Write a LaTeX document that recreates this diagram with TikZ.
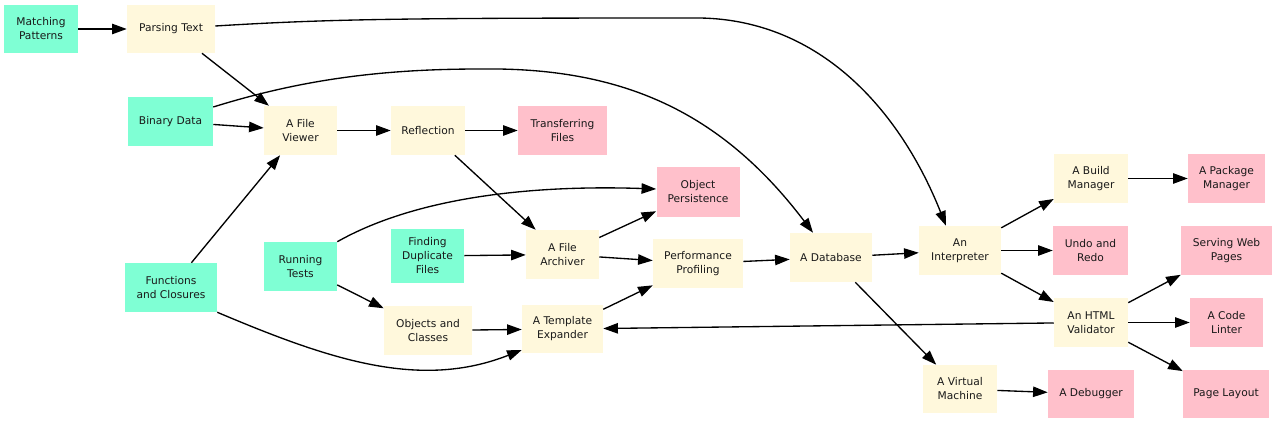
\documentclass[tikz,border=0pt]{standalone}
\usepackage{fontspec}
\setmainfont{DejaVu Sans}
\usetikzlibrary{arrows.meta}
\definecolor{aqua}{HTML}{7FFFD4}
\definecolor{corn}{HTML}{FFF8DC}
\definecolor{pinkc}{HTML}{FFC0CB}
\tikzset{
  gbox/.style={rectangle, draw=none, inner sep=0pt, align=center,
    font=\fontsize{8pt}{10.5pt}\selectfont, text=black!90},
  sz/.style 2 args={minimum width=#1*0.75pt, minimum height=#2*0.75pt},
  src/.style={gbox, fill=aqua},
  mid/.style={gbox, fill=corn},
  snk/.style={gbox, fill=pinkc},
  edge/.style={draw=black, line width=1pt, -{Triangle[length=11pt,width=7.8pt]}}
}
\begin{document}
\begin{tikzpicture}[x=0.75pt,y=-0.75pt]
\useasboundingbox (0,0) rectangle (1276,424);
% nodes
\node[src,sz={74}{48}] (mp) at (41,29) {Matching\\Patterns};
\node[mid,sz={88}{48}] (pt) at (171,29) {Parsing Text};
\node[src,sz={85}{49}] (bd) at (170.5,121.5) {Binary Data};
\node[mid,sz={73}{49}] (fv) at (300.5,130.5) {A File\\Viewer};
\node[mid,sz={74}{49}] (refl) at (428,130.5) {Reflection};
\node[snk,sz={89}{49}] (tf) at (562.5,130.5) {Transferring\\Files};
\node[snk,sz={83}{50}] (op) at (698,192) {Object\\Persistence};
\node[src,sz={73}{54}] (fdf) at (427.5,256) {Finding\\Duplicate\\Files};
\node[mid,sz={73}{49}] (fa) at (562.5,254.5) {A File\\Archiver};
\node[mid,sz={90}{49}] (pp) at (698,263.5) {Performance\\Profiling};
\node[mid,sz={88}{49}] (oc) at (428,330.5) {Objects and\\Classes};
\node[mid,sz={81}{48}] (te) at (562.5,329) {A Template\\Expander};
\node[src,sz={73}{49}] (rt) at (300.5,266.5) {Running\\Tests};
\node[src,sz={92}{49}] (fc) at (171,287.5) {Functions\\and Closures};
\node[mid,sz={82}{49}] (db) at (831,257.5) {A Database};
\node[mid,sz={82}{49}] (ip) at (960,250.5) {An\\Interpreter};
\node[mid,sz={74}{49}] (bm) at (1091,178.5) {A Build\\Manager};
\node[snk,sz={77}{49}] (pm) at (1226.5,178.5) {A Package\\Manager};
\node[snk,sz={75}{49}] (ur) at (1090.5,250.5) {Undo and\\Redo};
\node[snk,sz={91}{49}] (swp) at (1226.5,250.5) {Serving Web\\Pages};
\node[mid,sz={74}{49}] (hv) at (1091,322.5) {An HTML\\Validator};
\node[snk,sz={73}{49}] (cl) at (1226.5,322.5) {A Code\\Linter};
\node[mid,sz={74}{48}] (vm) at (960,389) {A Virtual\\Machine};
\node[snk,sz={86}{48}] (dbg) at (1091,394) {A Debugger};
\node[snk,sz={86}{48}] (pl) at (1226,394) {Page Layout};
% straight edges
\draw[edge] (mp) -- (pt);
\draw[edge] (pt) -- (fv);
\draw[edge] (bd) -- (fv);
\draw[edge] (fv) -- (refl);
\draw[edge] (refl) -- (tf);
\draw[edge] (refl) -- (fa);
\draw[edge] (fc) -- (fv);
\draw[edge] (rt) -- (oc);
\draw[edge] (fdf) -- (fa);
\draw[edge] (oc) -- (te);
\draw[edge] (fa) -- (op);
\draw[edge] (fa) -- (pp);
\draw[edge] (te) -- (pp);
\draw[edge] (pp) -- (db);
\draw[edge] (db) -- (ip);
\draw[edge] (db) -- (vm);
\draw[edge] (ip) -- (bm);
\draw[edge] (ip) -- (ur);
\draw[edge] (ip) -- (hv);
\draw[edge] (bm) -- (pm);
\draw[edge] (hv) -- (swp);
\draw[edge] (hv) -- (cl);
\draw[edge] (hv) -- (pl);
\draw[edge] (hv) -- (te);
\draw[edge] (vm) -- (dbg);
% curved edges
\draw[edge] (pt.east |- 0,26) .. controls (330,19) and (400,18) .. (700,18)
  .. controls (820,20) and (900,110) .. (ip.north west -| 946,0);
\draw[edge] (bd.east |- 0,107) .. controls (300,80) and (380,69) .. (480,69)
  .. controls (620,67) and (720,110) .. (db.north west -| 813,0);
\draw[edge] (rt.north east) .. controls (420,195) and (540,185) .. (op.west |- 0,189);
\draw[edge] (fc.south east) .. controls (330,360) and (420,390) .. (te.south west |- 0,350);
\end{tikzpicture}
\end{document}
